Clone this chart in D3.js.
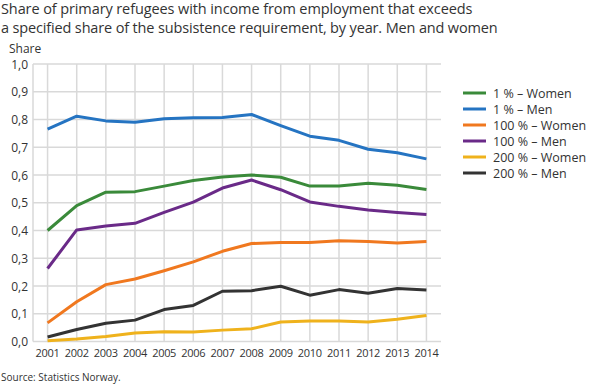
<!DOCTYPE html>
<html>
<head>
<meta charset="utf-8">
<script src="https://cdn.jsdelivr.net/npm/d3@7.9.0/dist/d3.min.js"></script>
<style>
  body { margin: 0; background: #fff; font-family: "Open Sans", sans-serif; }
  svg text { fill: #333; }
</style>
</head>
<body>
<svg id="chart" width="610" height="386"></svg>
<script>
const years = [2001, 2002, 2003, 2004, 2005, 2006, 2007, 2008, 2009, 2010, 2011, 2012, 2013, 2014];

const women1 = [0.400, 0.490, 0.538, 0.540, 0.560, 0.580, 0.593, 0.600, 0.592, 0.560, 0.560, 0.570, 0.563, 0.548];
const men1 = [0.765, 0.812, 0.795, 0.790, 0.803, 0.806, 0.807, 0.818, 0.778, 0.740, 0.725, 0.693, 0.680, 0.658];
const women100 = [0.067, 0.143, 0.205, 0.225, 0.255, 0.287, 0.325, 0.353, 0.357, 0.357, 0.363, 0.360, 0.355, 0.360];
const men100 = [0.263, 0.402, 0.416, 0.426, 0.465, 0.502, 0.553, 0.582, 0.547, 0.503, 0.487, 0.474, 0.465, 0.458];
const women200 = [0.003, 0.009, 0.018, 0.031, 0.035, 0.034, 0.041, 0.046, 0.070, 0.074, 0.074, 0.070, 0.080, 0.094];
const men200 = [0.016, 0.043, 0.066, 0.077, 0.115, 0.130, 0.181, 0.183, 0.199, 0.167, 0.187, 0.174, 0.191, 0.186];

const seriesNames = ['1 % – Women', '1 % – Men', '100 % – Women', '100 % – Men', '200 % – Women', '200 % – Men'];
const seriesValues = [women1, men1, women100, men100, women200, men200];
const colors = ['#3a8a3a', '#2574c2', '#f0781f', '#6a2a88', '#efb21c', '#333333'];
const yTicks = [0, 0.1, 0.2, 0.3, 0.4, 0.5, 0.6, 0.7, 0.8, 0.9, 1.0];

const svg = d3.select('#chart');

// title (two lines)
svg.append('text')
  .attr('x', 1).attr('y', 14)
  .style('font-size', '14.5px')
  .style('letter-spacing', '-0.1px')
  .text('Share of primary refugees with income from employment that exceeds');
svg.append('text')
  .attr('x', 1).attr('y', 33)
  .style('font-size', '14.5px')
  .style('letter-spacing', '-0.15px')
  .text('a specified share of the subsistence requirement, by year. Men and women');

const plotLeft = 33, plotRight = 441, plotTop = 64, plotBottom = 341.5;

const x = d3.scalePoint().domain(years).range([plotLeft, plotRight]).padding(0.5);
const y = d3.scaleLinear().domain([0, 1]).range([plotBottom, plotTop]);

// grid
const grid = svg.append('g');
grid.selectAll('line.h')
  .data(yTicks)
  .join('line')
  .attr('class', 'h')
  .attr('x1', plotLeft).attr('x2', plotRight)
  .attr('y1', d => y(d)).attr('y2', d => y(d))
  .attr('stroke', '#d9d9d9').attr('stroke-width', 1.5);
grid.selectAll('line.v')
  .data(years)
  .join('line')
  .attr('class', 'v')
  .attr('x1', d => x(d)).attr('x2', d => x(d))
  .attr('y1', plotTop).attr('y2', plotBottom)
  .attr('stroke', '#d9d9d9').attr('stroke-width', 1.5);
grid.append('line')
  .attr('x1', plotLeft).attr('x2', plotLeft)
  .attr('y1', plotTop).attr('y2', plotBottom)
  .attr('stroke', '#d9d9d9').attr('stroke-width', 1.5);

// y axis labels
const fmt = d => d3.format('.1f')(d).replace('.', ',');
svg.append('g').selectAll('text')
  .data(yTicks)
  .join('text')
  .attr('x', 28).attr('y', d => y(d) + 4.5)
  .attr('text-anchor', 'end')
  .style('font-size', '12px')
  .text(fmt);
svg.append('text')
  .attr('x', 9).attr('y', 53)
  .style('font-size', '12px')
  .text('Share');

// x axis labels
svg.append('g').selectAll('text')
  .data(years)
  .join('text')
  .attr('x', d => x(d)).attr('y', 357)
  .attr('text-anchor', 'middle')
  .style('font-size', '11px')
  .style('letter-spacing', '-0.3px')
  .text(d => d);

// lines
const line = d3.line()
  .x((d, i) => x(years[i]))
  .y(d => y(d));

svg.append('g').selectAll('path')
  .data(seriesValues.map((v, i) => ({ v, i })).reverse())
  .join('path')
  .attr('d', d => line(d.v))
  .attr('fill', 'none')
  .attr('stroke', d => colors[d.i])
  .attr('stroke-width', 3)
  .attr('stroke-linejoin', 'round');

// legend
const legend = svg.append('g').attr('transform', 'translate(463,93)');
const items = legend.selectAll('g')
  .data(seriesNames)
  .join('g')
  .attr('transform', (d, i) => `translate(0,${i * 16})`);
items.append('line')
  .attr('x1', 0).attr('x2', 23)
  .attr('y1', 0).attr('y2', 0)
  .attr('stroke', (d, i) => colors[i])
  .attr('stroke-width', 3);
items.append('text')
  .attr('x', 30).attr('y', 4.5)
  .style('font-size', '12.5px')
  .text(d => d);

// source
svg.append('text')
  .attr('x', 1).attr('y', 381)
  .style('font-size', '10px')
  .text('Source: Statistics Norway.');
</script>
</body>
</html>
